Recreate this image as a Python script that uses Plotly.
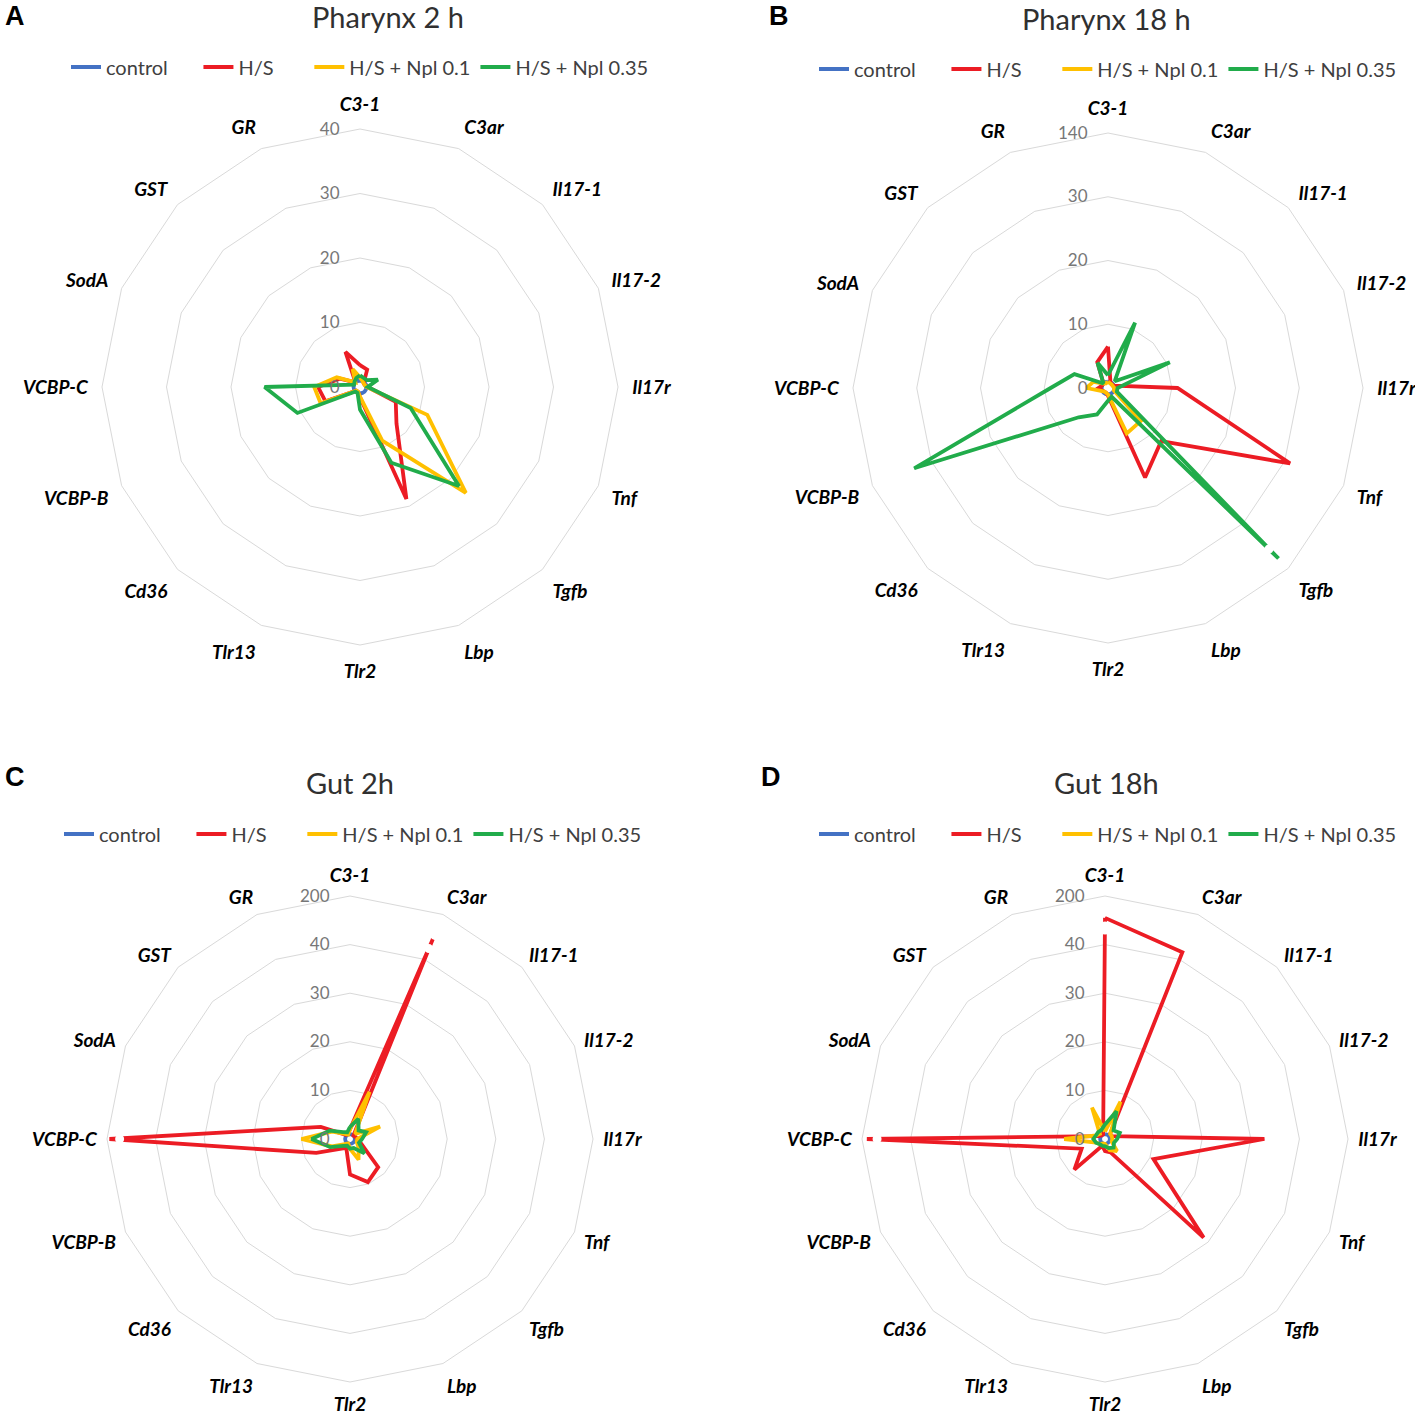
import plotly.graph_objects as go

W, H = 1415, 1417

genes = ['C3-1', 'C3ar', 'Il17-1', 'Il17-2', 'Il17r', 'Tnf', 'Tgfb', 'Lbp',
         'Tlr2', 'Tlr13', 'Cd36', 'VCBP-B', 'VCBP-C', 'SodA', 'GST', 'GR']
series_names = ['control', 'H/S', 'H/S + Npl 0.1', 'H/S + Npl 0.35']
colors = ['#4472c4', '#ec1c24', '#ffc000', '#21ac4b']

control = [1, 1, 1, 1, 1, 1, 1, 1, 1, 1, 1, 1, 1, 1, 1, 1]

# Pharynx 2 h
ph2_hs = [3.4, 2.9, 0.8, 0.8, 1.2, 6.0, 8.0, 18.8, 1.6, 0.8, 0.8, 5.8, 6.5, 3.4, 1.0, 5.9]
ph2_npl01 = [1.5, 1.0, 0.8, 0.8, 1.0, 11.3, 23.2, 9.0, 1.5, 0.8, 0.8, 6.6, 7.1, 3.9, 1.0, 3.0]
ph2_npl035 = [1.8, 1.5, 1.5, 3.0, 1.2, 8.5, 21.7, 12.7, 3.5, 1.0, 1.0, 10.5, 14.8, 1.0, 1.2, 1.5]

# Pharynx 18 h
ph18_hs = [6.5, 1.0, 0.8, 1.0, 10.9, 40, 11.8, 15.2, 1.2, 0.8, 0.8, 1.0, 1.5, 1.0, 1.0, 4.4]
ph18_npl01 = [1.0, 0.8, 0.8, 0.8, 1.0, 1.0, 7.3, 7.7, 1.0, 0.8, 0.8, 1.2, 3.4, 2.5, 1.0, 0.8]
ph18_npl035 = [2.0, 11.1, 1.5, 10.5, 1.5, 1.5, 116, 1.5, 2.0, 4.5, 6.5, 62, 9.0, 5.7, 1.0, 4.3]

# Gut 2h
gut2_hs = [2.0, 112, 1.0, 1.2, 1.5, 2.5, 8.2, 9.6, 7.3, 2.0, 2.9, 7.5, 192, 6.5, 1.2, 1.2]
gut2_npl01 = [2.0, 10.5, 1.5, 6.7, 1.5, 1.5, 2.5, 4.6, 2.0, 1.0, 1.5, 4.0, 10.0, 4.0, 1.5, 1.0]
gut2_npl035 = [2.5, 4.5, 2.5, 3.6, 2.5, 2.0, 4.2, 2.0, 2.0, 1.5, 2.0, 4.4, 7.9, 4.5, 2.0, 1.5]

# Gut 18h
gut18_hs = [128, 65.6, 1.5, 1.5, 32.8, 10.8, 28.7, 3.0, 2.5, 1.5, 8.9, 5.2, 184, 1.5, 1.0, 1.0]
gut18_npl01 = [1.5, 8.3, 1.5, 1.5, 1.5, 1.5, 3.5, 2.5, 1.0, 1.0, 1.5, 2.0, 8.4, 2.0, 1.5, 7.0]
gut18_npl035 = [3.0, 6.2, 2.5, 3.3, 2.5, 2.0, 2.5, 2.0, 1.5, 1.5, 1.5, 2.0, 2.4, 2.0, 2.0, 2.0]

# broken axis: [series index, gene] whose line is cut near the tip
ph18_breaks = [[3, 'Tgfb']]
gut2_breaks = [[1, 'C3ar'], [1, 'VCBP-C']]
gut18_breaks = [[1, 'C3-1'], [1, 'VCBP-C']]

panels = [
    dict(letter='A', title='Pharynx 2 h', data=[control, ph2_hs, ph2_npl01, ph2_npl035],
         ticks=['0', '10', '20', '30', '40'], brk=None, top=40, breaks=[],
         c=(360, 387), R=258, tpos=(388, 16), lpos=(3, 16), leg=(66, 67), tl=10),
    dict(letter='B', title='Pharynx 18 h', data=[control, ph18_hs, ph18_npl01, ph18_npl035],
         ticks=['0', '10', '20', '30', '140'], brk=30, top=140, breaks=ph18_breaks,
         c=(1108, 388), R=255, tpos=(1106, 18), lpos=(767, 16), leg=(814, 69), tl=10),
    dict(letter='C', title='Gut 2h', data=[control, gut2_hs, gut2_npl01, gut2_npl035],
         ticks=['0', '10', '20', '30', '40', '200'], brk=40, top=200, breaks=gut2_breaks,
         c=(350, 1139), R=243, tpos=(350, 782), lpos=(3, 777), leg=(59, 834), tl=6),
    dict(letter='D', title='Gut 18h', data=[control, gut18_hs, gut18_npl01, gut18_npl035],
         ticks=['0', '10', '20', '30', '40', '200'], brk=40, top=200, breaks=gut18_breaks,
         c=(1105, 1139), R=243, tpos=(1106, 782), lpos=(759, 777), leg=(814, 834), tl=6),
]

# extra room after each legend entry (non-breaking spaces)
legend_pad = [5, 6, 0, 0]


def to_r(v, p):
  # values above the break are squeezed into the last ring
  if p['brk'] is None or v <= p['brk']:
    return v
  return p['brk'] + (v - p['brk']) * 10.0 / (p['top'] - p['brk'])


fig = go.Figure()
layout = {}
annotations = []

for i, p in enumerate(panels):
  sub = 'polar' if i == 0 else f'polar{i + 1}'
  leg = 'legend' if i == 0 else f'legend{i + 1}'
  theta = genes + [genes[0]]

  for k, (name, vals) in enumerate(zip(series_names, p['data'])):
    r = [to_r(v, p) for v in vals]
    fig.add_trace(go.Scatterpolar(r=r + [r[0]], theta=theta, mode='lines',
                                  name=name + '\u00a0' * legend_pad[k],
                                  line=dict(color=colors[k], width=3.8),
                                  subplot=sub, legend=leg, hoverinfo='skip'))

  for k, gene in p['breaks']:
    v = p['data'][k][genes.index(gene)]
    fig.add_trace(go.Scatterpolar(r=[to_r(v, p) - 2.1], theta=[gene], mode='markers',
                                  marker=dict(color='white', size=9 if gene != 'C3-1' else 13),
                                  subplot=sub, showlegend=False, hoverinfo='skip'))

  cx, cy = p['c']
  R = p['R']
  nr = len(p['ticks']) - 1
  layout[sub] = dict(
      domain=dict(x=[(cx - R) / W, (cx + R) / W], y=[1 - (cy + R) / H, 1 - (cy - R) / H]),
      gridshape='linear',
      bgcolor='white',
      angularaxis=dict(type='category', categoryarray=genes, direction='clockwise', rotation=90,
                       showgrid=False, showline=True, linecolor='#d9d9d9', linewidth=1,
                       ticks='outside', ticklen=p['tl'], tickcolor='rgba(0,0,0,0)',
                       tickfont=dict(family='Lato', size=19, color='black', weight='bold', style='italic')),
      radialaxis=dict(range=[0, nr * 10], tickvals=[j * 10 for j in range(nr + 1)], ticktext=p['ticks'],
                      angle=90, tickangle=90, side='counterclockwise', showline=False,
                      ticks='outside', ticklen=14, tickcolor='rgba(0,0,0,0)',
                      gridcolor='#d9d9d9', gridwidth=1,
                      tickfont=dict(family='Lato', size=17, color='#777777')),
  )
  layout[leg] = dict(orientation='h', x=p['leg'][0] / W, y=1 - p['leg'][1] / H, xanchor='left',
                     yanchor='middle', font=dict(family='Lato', size=20, color='#404040'),
                     bgcolor='rgba(0,0,0,0)', itemwidth=30, tracegroupgap=0)
  annotations.append(dict(text=p['title'], x=p['tpos'][0] / W, y=1 - p['tpos'][1] / H, xref='paper',
                          yref='paper', showarrow=False, xanchor='center', yanchor='middle',
                          font=dict(family='Lato', size=29, color='#303030')))
  annotations.append(dict(text='<b>' + p['letter'] + '</b>', x=p['lpos'][0] / W, y=1 - p['lpos'][1] / H,
                          xref='paper', yref='paper', showarrow=False, xanchor='left', yanchor='middle',
                          font=dict(family='Liberation Sans', size=27, color='black')))

fig.update_layout(width=W, height=H, margin=dict(l=0, r=0, t=0, b=0), paper_bgcolor='white',
                  annotations=annotations, **layout)

fig.write_html('out.html', config={'displayModeBar': False},
               post_script="document.body.style.margin='0';document.body.style.overflow='hidden';")
